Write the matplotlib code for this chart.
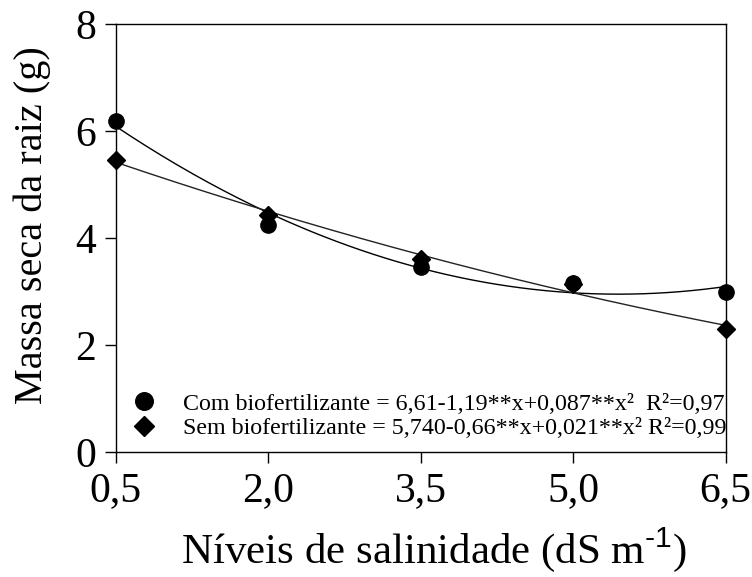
import numpy as np
import matplotlib
matplotlib.use('Agg')
import matplotlib.pyplot as plt

plt.rcParams['font.family'] = ['Liberation Serif', 'DejaVu Serif']
plt.rcParams['mathtext.fontset'] = 'custom'
plt.rcParams['mathtext.rm'] = 'Liberation Sans'
plt.rcParams['mathtext.default'] = 'rm'

# salinity levels (dS m-1) and root dry mass (g)
salinidade = [0.5, 2.0, 3.5, 5.0, 6.5]
com_bio = [6.20, 4.25, 3.47, 3.17, 3.00]
sem_bio = [5.47, 4.43, 3.62, 3.15, 2.30]

xticklabels = ['0,5', '2,0', '3,5', '5,0', '6,5']
yticks = [0, 2, 4, 6, 8]

label_com = 'Com biofertilizante = 6,61-1,19**x+0,087**x\u00b2  R\u00b2=0,97'
label_sem = 'Sem biofertilizante = 5,740-0,66**x+0,021**x\u00b2 R\u00b2=0,99'

fig = plt.figure(figsize=(7.52, 5.77), dpi=100)
ax = fig.add_axes([0.154, 0.216, 0.811, 0.742])

# quadratic trend lines
xs = np.linspace(0.5, 6.5, 200)
c_com = np.polyfit(salinidade, com_bio, 2)
c_sem = np.polyfit(salinidade, sem_bio, 2)
ax.plot(xs, np.polyval(c_com, xs), color='black', lw=1.0, zorder=2)
ax.plot(xs, np.polyval(c_sem, xs), color='#222222', lw=1.0, zorder=2)

ax.plot(salinidade, sem_bio, 'D', color='black', markersize=9, lw=0,
        label=label_sem, zorder=3, clip_on=False)
ax.plot(salinidade, com_bio, 'o', color='black', markersize=11, lw=0,
        label=label_com, zorder=4, clip_on=False)

ax.set_xlim(0.5, 6.5)
ax.set_ylim(0, 8)
ax.set_xticks(salinidade)
ax.set_xticklabels(xticklabels)
ax.set_yticks(yticks)
ax.tick_params(direction='out', length=8, width=1, labelsize=30, pad=6,
               top=False, right=False)
for s in ax.spines.values():
    s.set_linewidth(1.0)

ax.set_xlabel('Níveis de salinidade (dS m$^{\\text{-1}}$)', fontsize=31)
ax.set_ylabel('Massa seca da raiz (g)', fontsize=29)
ax.xaxis.set_label_coords(0.521, -0.17)
ax.yaxis.set_label_coords(-0.107, 0.53)

handles, labels = ax.get_legend_handles_labels()
ax.legend(handles[::-1], labels[::-1], loc='lower left', frameon=False,
          fontsize=17.3, handlelength=1.0, handletextpad=1.1,
          labelspacing=0.12, borderaxespad=0.05, bbox_to_anchor=(0.009, 0.005),
          markerscale=1.15)

fig.savefig('out.png', dpi=100)
